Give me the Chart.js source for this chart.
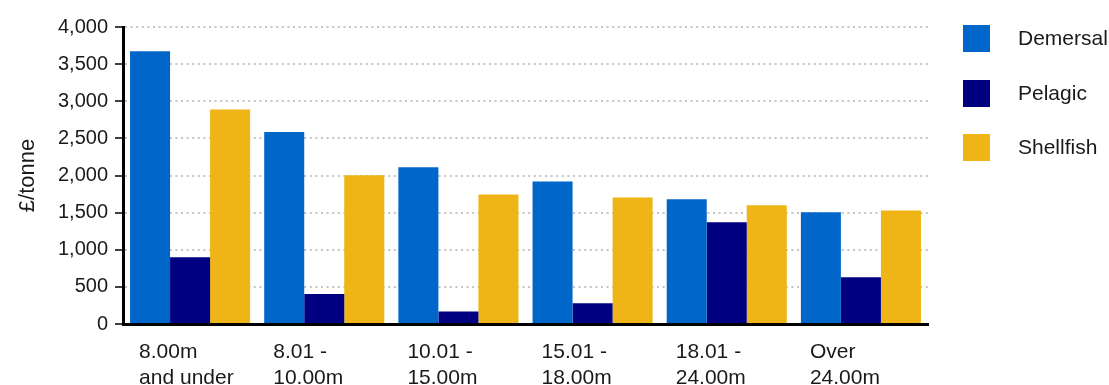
<!DOCTYPE html>
<html>
<head>
<meta charset="utf-8">
<script src="https://cdn.jsdelivr.net/npm/chart.js@4/dist/chart.umd.min.js"></script>
<style>
  html, body { margin: 0; padding: 0; background: #ffffff; }
  #wrap { width: 1109px; height: 385px; }
</style>
</head>
<body>
<div id="wrap"><canvas id="c" width="1109" height="385"></canvas></div>
<script>
// Average price per tonne by vessel length group
const lengthGroups = [
  ["8.00m", "and under"],
  ["8.01 -", "10.00m"],
  ["10.01 -", "15.00m"],
  ["15.01 -", "18.00m"],
  ["18.01 -", "24.00m"],
  ["Over", "24.00m"]
];
const demersal  = [3675, 2585, 2110, 1920, 1680, 1505];
const pelagic   = [900, 405, 170, 280, 1370, 630];
const shellfish = [2890, 2005, 1745, 1705, 1600, 1530];
const seriesNames = ["Demersal", "Pelagic", "Shellfish"];
const seriesColours = ["#0066CA", "#000080", "#EFB415"];

const FONT = "'Liberation Sans', Arial, Helvetica, sans-serif";
const TEXT = "#1a1a1a";

// Legend drawn to the right of the plot: coloured square, then the series name
const sideLegend = {
  id: "sideLegend",
  afterDraw(chart) {
    const ctx = chart.ctx;
    const boxX = 963, box = 27, textX = 1018;
    const firstY = 38.5, step = 54.5;
    ctx.save();
    ctx.font = "21px " + FONT;
    ctx.textBaseline = "middle";
    ctx.textAlign = "left";
    chart.data.datasets.forEach((ds, i) => {
      const cy = firstY + i * step;
      ctx.fillStyle = ds.backgroundColor;
      ctx.fillRect(boxX, Math.round(cy - box / 2), box, box);
      ctx.fillStyle = TEXT;
      ctx.fillText(ds.label, textX, cy + 1);
    });
    ctx.restore();
  }
};

new Chart(document.getElementById("c"), {
  type: "bar",
  data: {
    labels: lengthGroups,
    datasets: [
      { label: seriesNames[0], data: demersal,  backgroundColor: seriesColours[0] },
      { label: seriesNames[1], data: pelagic,   backgroundColor: seriesColours[1] },
      { label: seriesNames[2], data: shellfish, backgroundColor: seriesColours[2] }
    ]
  },
  options: {
    responsive: false,
    animation: false,
    devicePixelRatio: 1,
    layout: { padding: { top: 27, right: 181, bottom: 0, left: 0 } },
    datasets: { bar: { barPercentage: 1.0, categoryPercentage: 0.895, borderWidth: 0 } },
    plugins: {
      legend: { display: false },
      tooltip: { enabled: false }
    },
    scales: {
      x: {
        grid: { display: false, drawTicks: false },
        border: { display: true, color: "#000000", width: 3 },
        ticks: {
          color: TEXT,
          font: { family: FONT, size: 21, lineHeight: 1.2 },
          align: "start",
          labelOffset: -51,
          padding: 16,
          maxRotation: 0,
          autoSkip: false
        },
        afterFit(scale) { scale.height = 61; }
      },
      y: {
        min: 0,
        max: 4000,
        ticks: {
          stepSize: 500,
          color: TEXT,
          padding: 7,
          font: { family: FONT, size: 20 },
          callback: (v) => Number(v).toLocaleString("en-GB")
        },
        grid: {
          color: "#c4c4c4",
          lineWidth: 2,
          drawTicks: true,
          tickLength: 8,
          tickColor: "#000000",
          tickWidth: 1.5,
          tickBorderDash: []
        },
        border: { display: true, color: "#000000", width: 3, dash: [2, 3.6] },
        title: {
          display: true,
          text: "£/tonne",
          color: TEXT,
          font: { family: FONT, size: 22 },
          padding: { top: 15, bottom: 0 }
        },
        afterFit(scale) { scale.width = 123; }
      }
    }
  },
  plugins: [sideLegend]
});
</script>
</body>
</html>
